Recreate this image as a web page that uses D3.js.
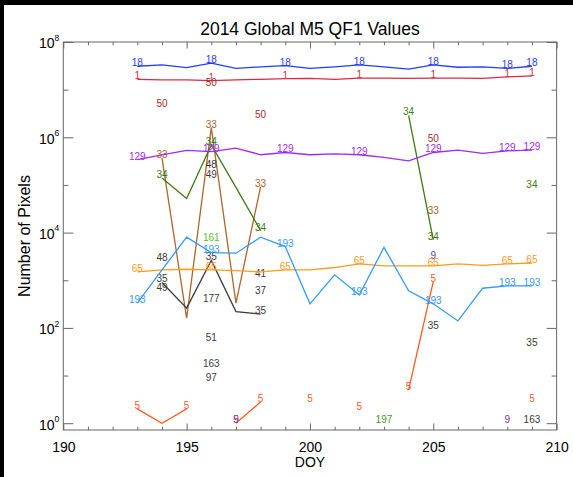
<!DOCTYPE html>
<html>
<head>
<meta charset="utf-8">
<script src="https://cdn.jsdelivr.net/npm/d3@7"></script>
<style>
  body { margin: 0; background: #000; }
  svg { display: block; font-family: "Liberation Sans", Arial, sans-serif; }
</style>
</head>
<body>
<div id="chart"></div>
<script>
// day of year for each column below
const days = [193, 194, 195, 196, 197, 198, 199, 200, 201, 202, 203, 204, 205, 206, 207, 208, 209];

// number of pixels per QF1 value, null = no pixels that day
const v1   = [1.65e7, 1.6e7, 1.6e7, 1.55e7, 1.6e7, 1.65e7, 1.7e7, 1.72e7, 1.65e7, 1.75e7, 1.75e7, 1.72e7, 1.75e7, 1.75e7, 1.72e7, 1.85e7, 1.95e7];
const v5   = [2, 1, 2, null, 1, 2.8, null, 2.8, null, 1.9, null, 5, 935, null, null, null, 2.8];
const v9   = [null, null, null, null, 1, null, null, null, null, null, null, null, 2.8e3, null, null, 1, null];
const v18  = [3.1e7, 3.3e7, 2.9e7, 3.6e7, 2.8e7, 3.0e7, 3.2e7, 2.8e7, 3.0e7, 3.3e7, 3.0e7, 2.7e7, 3.3e7, 2.95e7, 3.0e7, 2.8e7, 3.1e7];
const v33  = [null, 3.7e5, 160, 1.6e6, 330, 9.2e4, null, null, null, null, null, null, 2.5e4, null, null, null, null];
const v34  = [null, 1.4e5, 5.2e4, 6.9e5, 8.9e4, 1.1e4, null, null, null, null, null, 2.9e6, 7e3, null, null, null, 8.8e4];
const v35  = [null, 900, 260, 2.6e3, 220, 195, null, null, null, null, null, null, 95, null, null, null, 42];
const v37  = [null, null, null, null, null, 516, null, null, null, null, null, null, null, null, null, null, null];
const v41  = [null, null, null, null, null, 1.15e3, null, null, null, null, null, null, null, null, null, null, null];
const v48  = [null, 2.5e3, null, 2.3e5, null, null, null, null, null, null, null, null, null, null, null, null, null];
const v49  = [null, 600, null, 1.4e5, null, null, null, null, null, null, null, null, null, null, null, null, null];
const v50  = [null, 4.4e6, null, 1.2e7, null, 2.5e6, null, null, null, null, null, null, 8.1e5, null, null, null, null];
const v51  = [null, null, null, 53, null, null, null, null, null, null, null, null, null, null, null, null, null];
const v65  = [1.5e3, 1.65e3, 1.7e3, 1.65e3, 1.6e3, 1.5e3, 1.65e3, 1.65e3, 1.85e3, 2.2e3, 2.0e3, 2.0e3, 2.0e3, 2.2e3, 2.05e3, 2.2e3, 2.3e3];
const v97  = [null, null, null, 7.7, null, null, null, null, null, null, null, null, null, null, null, null, null];
const v129 = [3.4e5, 4.3e5, 5.3e5, 5.0e5, 5.9e5, 4.3e5, 4.8e5, 4.3e5, 4.5e5, 4.3e5, 3.8e5, 3.2e5, 4.8e5, 5.4e5, 4.6e5, 5.2e5, 5.4e5];
const v161 = [null, null, null, 6.8e3, null, null, null, null, null, null, null, null, null, null, null, null, null];
const v163 = [null, null, null, 15, null, null, null, null, null, null, null, null, null, null, null, null, 1];
const v177 = [null, null, null, 355, null, null, null, null, null, null, null, null, null, null, null, null, null];
const v193 = [330, 1650, 8.0e3, 3.8e3, 3.7e3, 8.0e3, 5.1e3, 320, 1.3e3, 490, 4.9e3, 600, 320, 140, 680, 760, 760];
const v197 = [null, null, null, null, null, null, null, null, null, null, 1, null, null, null, null, null, null];

const xTicks = [190, 195, 200, 205, 210];
const yTicks = [1, 1e2, 1e4, 1e6, 1e8];

// qf1 value -> values + colour (drawn in this order)
const series = [
  { name: "1",   values: v1,   color: "#dc2846" },
  { name: "5",   values: v5,   color: "#ff5a1e" },
  { name: "9",   values: v9,   color: "#7a35b0" },
  { name: "18",  values: v18,  color: "#1f3cff" },
  { name: "33",  values: v33,  color: "#b0652a" },
  { name: "34",  values: v34,  color: "#3d7a12" },
  { name: "35",  values: v35,  color: "#3a3a3a" },
  { name: "37",  values: v37,  color: "#3a3a3a" },
  { name: "41",  values: v41,  color: "#3a3a3a" },
  { name: "48",  values: v48,  color: "#3a3a3a" },
  { name: "49",  values: v49,  color: "#3a3a3a" },
  { name: "50",  values: v50,  color: "#a52a2a" },
  { name: "51",  values: v51,  color: "#3a3a3a" },
  { name: "65",  values: v65,  color: "#ff9b1a" },
  { name: "97",  values: v97,  color: "#3a3a3a" },
  { name: "129", values: v129, color: "#a228f0" },
  { name: "161", values: v161, color: "#5cc21e" },
  { name: "163", values: v163, color: "#3a3a3a" },
  { name: "177", values: v177, color: "#3a3a3a" },
  { name: "193", values: v193, color: "#3398ff" },
  { name: "197", values: v197, color: "#3f9a2a" }
];

const W = 573, H = 477;
const mLeft = 63.3, mRight = 556.6, mTop = 42, mBottom = 430;
const axisColor = "#666";

const svg = d3.select("#chart").append("svg")
  .attr("width", W)
  .attr("height", H);

// white page, black strip left and top
svg.append("rect").attr("width", W).attr("height", H).attr("fill", "#000");
svg.append("rect").attr("x", 4).attr("y", 5).attr("width", W - 4).attr("height", H - 5).attr("fill", "#fff");

const x = d3.scaleLinear().domain([190, 210]).range([mLeft, mRight]);
const y = d3.scaleLog().domain([0.72, 1e8]).range([mBottom, mTop]);

// ---- axes ----
function noDomain(g) { g.select(".domain").remove(); }

const minorDays = d3.range(190, 211).filter(d => d % 5 != 0);
const minorDecades = [10, 1e3, 1e5, 1e7];

svg.append("g").attr("transform", `translate(0,${mBottom})`).attr("color", axisColor)
  .call(d3.axisBottom(x).tickValues(xTicks).tickSizeInner(-6.5).tickSizeOuter(0).tickPadding(12).tickFormat(d3.format("d")))
  .call(noDomain)
  .call(g => g.selectAll("text").attr("fill", "#000").attr("font-size", "14px").attr("font-family", null));
svg.append("g").attr("transform", `translate(0,${mBottom})`).attr("color", axisColor)
  .call(d3.axisBottom(x).tickValues(minorDays).tickSizeInner(-3.3).tickSizeOuter(0).tickFormat(""))
  .call(noDomain);
svg.append("g").attr("transform", `translate(0,${mTop})`).attr("color", axisColor)
  .call(d3.axisTop(x).tickValues(xTicks).tickSizeInner(-6.5).tickSizeOuter(0).tickFormat(""))
  .call(noDomain);
svg.append("g").attr("transform", `translate(0,${mTop})`).attr("color", axisColor)
  .call(d3.axisTop(x).tickValues(minorDays).tickSizeInner(-3.3).tickSizeOuter(0).tickFormat(""))
  .call(noDomain);

svg.append("g").attr("transform", `translate(${mLeft},0)`).attr("color", axisColor)
  .call(d3.axisLeft(y).tickValues(yTicks).tickSizeInner(-10).tickSizeOuter(0).tickPadding(4).tickFormat(""))
  .call(noDomain)
  .call(g => g.selectAll(".tick text").each(function(d) {
    const t = d3.select(this)
      .attr("fill", "#000").attr("font-size", "14px").attr("font-family", null)
      .attr("dy", "0.42em");
    t.append("tspan").text("10");
    t.append("tspan").attr("font-size", "8.5px").attr("dy", "-0.9em").text(Math.round(Math.log10(d)));
  }));
svg.append("g").attr("transform", `translate(${mLeft},0)`).attr("color", axisColor)
  .call(d3.axisLeft(y).tickValues(minorDecades).tickSizeInner(-5).tickSizeOuter(0).tickFormat(""))
  .call(noDomain);
svg.append("g").attr("transform", `translate(${mRight},0)`).attr("color", axisColor)
  .call(d3.axisRight(y).tickValues(yTicks).tickSizeInner(-10).tickSizeOuter(0).tickFormat(""))
  .call(noDomain);
svg.append("g").attr("transform", `translate(${mRight},0)`).attr("color", axisColor)
  .call(d3.axisRight(y).tickValues(minorDecades).tickSizeInner(-5).tickSizeOuter(0).tickFormat(""))
  .call(noDomain);

// frame
svg.append("rect")
  .attr("x", mLeft).attr("y", mTop)
  .attr("width", mRight - mLeft).attr("height", mBottom - mTop)
  .attr("fill", "none").attr("stroke", axisColor).attr("stroke-width", 1);

// titles
svg.append("text")
  .attr("x", (mLeft + mRight) / 2).attr("y", 35)
  .attr("text-anchor", "middle").attr("font-size", "17.5px")
  .text("2014 Global M5 QF1 Values");
svg.append("text")
  .attr("x", (mLeft + mRight) / 2).attr("y", 467)
  .attr("text-anchor", "middle").attr("font-size", "14px")
  .text("DOY");
svg.append("text")
  .attr("transform", `translate(30,${(mTop + mBottom) / 2}) rotate(-90)`)
  .attr("text-anchor", "middle").attr("font-size", "16px")
  .text("Number of Pixels");

// ---- series ----
const line = d3.line()
  .defined(d => d.v != null)
  .x(d => x(d.day))
  .y(d => y(d.v));

series.forEach(s => {
  const pts = days.map((day, i) => ({ day: day, v: s.values[i], i: i }));

  svg.append("path")
    .datum(pts)
    .attr("fill", "none")
    .attr("stroke", s.color)
    .attr("stroke-width", 1.3)
    .attr("d", line);

  // label every third day, plus the ends of each run
  const labelled = pts.filter((p, i) => {
    if (p.v == null) return false;
    const prev = i > 0 ? pts[i - 1].v : null;
    const next = i < pts.length - 1 ? pts[i + 1].v : null;
    return i % 3 == 0 || prev == null || next == null;
  });

  svg.append("g").selectAll("text")
    .data(labelled)
    .enter().append("text")
      .attr("x", d => x(d.day))
      .attr("y", d => y(d.v))
      .attr("text-anchor", "middle")
      .attr("font-size", "10px")
      .attr("fill", s.color)
      .text(s.name);
});
</script>
</body>
</html>
